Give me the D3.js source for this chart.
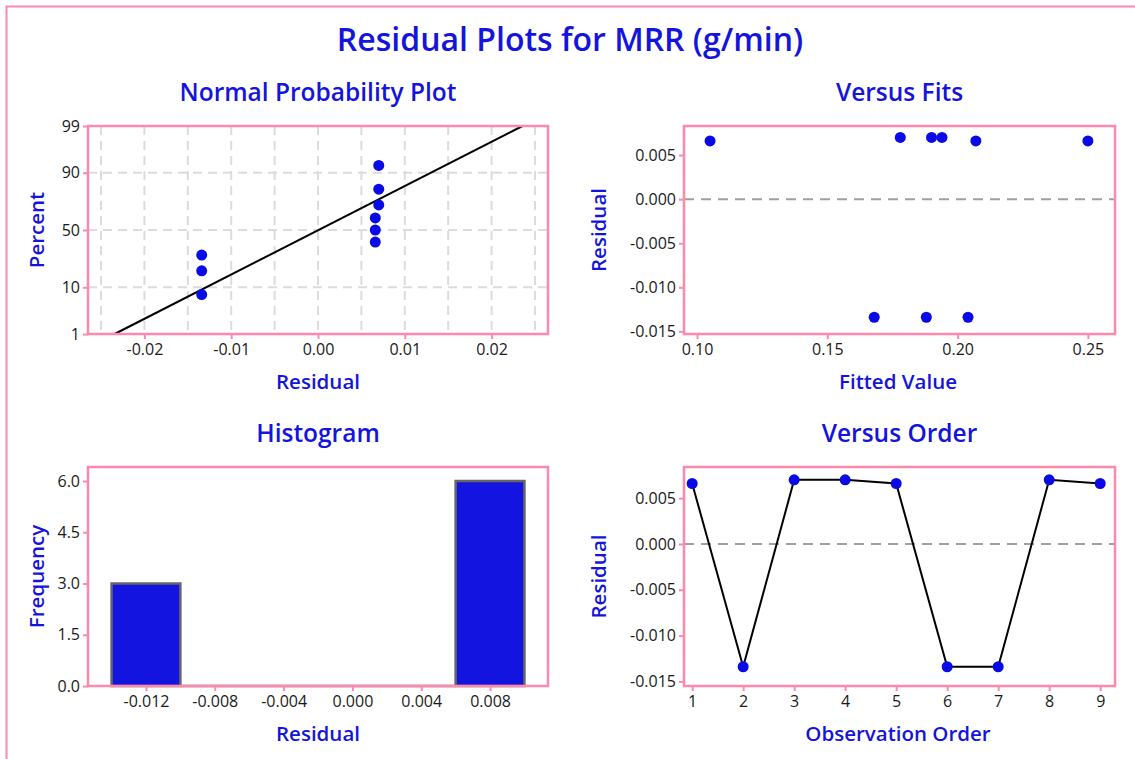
<!DOCTYPE html>
<html>
<head>
<meta charset="utf-8">
<script src="https://cdn.jsdelivr.net/npm/d3@7"></script>
<style>
  body { margin: 0; background: #fff; }
  text { font-family: "Open Sans", "Noto Sans", sans-serif; }
</style>
</head>
<body>
<svg width="1135" height="759"></svg>
<script>
// residuals in observation order, and the fitted value of each observation
var observation = [1, 2, 3, 4, 5, 6, 7, 8, 9];
var residuals = [0.0066, -0.0134, 0.0070, 0.0070, 0.0066, -0.0134, -0.0134, 0.0070, 0.0066];
var fitted = [0.105, 0.168, 0.178, 0.190, 0.207, 0.188, 0.204, 0.194, 0.250];

// tick labels
var pctTicks = [1, 10, 50, 90, 99];
var nppXTicks = [-0.02, -0.01, 0.00, 0.01, 0.02];
var fitsXTicks = [0.10, 0.15, 0.20, 0.25];
var residTicks = [0.005, 0.000, -0.005, -0.010, -0.015];
var histXTicks = [-0.012, -0.008, -0.004, 0.000, 0.004, 0.008];
var histYTicks = [0.0, 1.5, 3.0, 4.5, 6.0];
var binEdges = [-0.014, -0.010, -0.006, -0.002, 0.002, 0.006, 0.010];

var pink = "#ff88ad",
  blue = "#1414dc",
  dot = "#0a0ae6";

// plain hyphen for negatives, like the original
var fmt = d3.formatLocale({decimal: ".", thousands: ",", grouping: [3], currency: ["", ""], minus: "-"}).format;

var svg = d3.select("svg");

// outer frame, runs off the page on the right and bottom
svg.append("rect")
  .attr("x", 6.5).attr("y", 6.5)
  .attr("width", 1300).attr("height", 900)
  .attr("fill", "none").attr("stroke", pink).attr("stroke-width", 2);

svg.append("text")
  .attr("x", 570).attr("y", 51)
  .attr("text-anchor", "middle")
  .attr("fill", blue)
  .style("font-size", "32px").style("font-weight", 600)
  .text("Residual Plots for MRR (g/min)");

// inverse normal cdf (Acklam)
function qnorm(p) {
  var a = [-3.969683028665376e+01, 2.209460984245205e+02, -2.759285104469687e+02, 1.383577518672690e+02, -3.066479806614716e+01, 2.506628277459239e+00];
  var b = [-5.447609879822406e+01, 1.615858368580409e+02, -1.556989798598866e+02, 6.680131188771972e+01, -1.328068155288572e+01];
  var c = [-7.784894002430293e-03, -3.223964580411365e-01, -2.400758277161838e+00, -2.549732539343734e+00, 4.374664141464968e+00, 2.938163982698783e+00];
  var d = [7.784695709041462e-03, 3.224671290700398e-01, 2.445134137142996e+00, 3.754408661907416e+00];
  var q, r;
  if (p < 0.02425) {
    q = Math.sqrt(-2 * Math.log(p));
    return (((((c[0]*q+c[1])*q+c[2])*q+c[3])*q+c[4])*q+c[5]) / ((((d[0]*q+d[1])*q+d[2])*q+d[3])*q+1);
  } else if (p > 1 - 0.02425) {
    q = Math.sqrt(-2 * Math.log(1 - p));
    return -(((((c[0]*q+c[1])*q+c[2])*q+c[3])*q+c[4])*q+c[5]) / ((((d[0]*q+d[1])*q+d[2])*q+d[3])*q+1);
  }
  q = p - 0.5; r = q * q;
  return (((((a[0]*r+a[1])*r+a[2])*r+a[3])*r+a[4])*r+a[5])*q / (((((b[0]*r+b[1])*r+b[2])*r+b[3])*r+b[4])*r+1);
}

// panel frame + titles
function panel(box, title, xlab, ylab) {
  var g = svg.append("g");
  svg.append("text")
    .attr("x", (box.x0 + box.x1) / 2).attr("y", box.y0 - 25)
    .attr("text-anchor", "middle").attr("fill", blue)
    .style("font-size", "24.5px").style("font-weight", 600)
    .text(title);
  svg.append("text")
    .attr("x", box.xlabX).attr("y", box.y1 + 55)
    .attr("text-anchor", "middle").attr("fill", blue)
    .style("font-size", "20.5px").style("font-weight", 600)
    .text(xlab);
  svg.append("text")
    .attr("transform", "translate(" + box.ylabX + "," + (box.y0 + box.y1) / 2 + ") rotate(-90)")
    .attr("text-anchor", "middle").attr("fill", blue)
    .style("font-size", "20.5px").style("font-weight", 600)
    .text(ylab);
  return g;
}

function styleAxis(sel) {
  sel.select(".domain").remove();
  sel.selectAll(".tick line").attr("stroke", pink).attr("stroke-width", 2);
  sel.selectAll(".tick text")
    .attr("fill", "#1a1a1a")
    .style("font-size", "16px");
}

function frame(g, box) {
  g.append("rect")
    .attr("x", box.x0).attr("y", box.y0)
    .attr("width", box.x1 - box.x0).attr("height", box.y1 - box.y0)
    .attr("fill", "none").attr("stroke", pink).attr("stroke-width", 2.5);
}

// ---- Normal probability plot
var b1 = {x0: 88, x1: 548, y0: 126, y1: 334, xlabX: 318, ylabX: 44};
var g1 = panel(b1, "Normal Probability Plot", "Residual", "Percent");
var x1 = d3.scaleLinear().domain([-0.0265, 0.0265]).range([b1.x0, b1.x1]);
var y1 = d3.scaleLinear().domain([qnorm(0.01), qnorm(0.99)]).range([b1.y1, b1.y0]);

var n = residuals.length;
var sorted = residuals.slice().sort(d3.ascending);
var npp = sorted.map(function(r, i) { return {r: r, p: (i + 1 - 0.3) / (n + 0.4)}; });
var mu = d3.mean(residuals), sd = d3.deviation(residuals);

g1.append("g").selectAll("line")
  .data(d3.range(-0.025, 0.02501, 0.005))
  .enter().append("line")
  .attr("x1", function(d) { return x1(d); }).attr("x2", function(d) { return x1(d); })
  .attr("y1", b1.y0).attr("y2", b1.y1)
  .attr("stroke", "#dcdcdc").attr("stroke-width", 2).attr("stroke-dasharray", "9,6");
g1.append("g").selectAll("line")
  .data([10, 50, 90])
  .enter().append("line")
  .attr("x1", b1.x0).attr("x2", b1.x1)
  .attr("y1", function(d) { return y1(qnorm(d / 100)); })
  .attr("y2", function(d) { return y1(qnorm(d / 100)); })
  .attr("stroke", "#dcdcdc").attr("stroke-width", 2).attr("stroke-dasharray", "9,6");

g1.append("line")
  .attr("x1", x1(mu + sd * qnorm(0.01))).attr("y1", y1(qnorm(0.01)))
  .attr("x2", x1(mu + sd * qnorm(0.99))).attr("y2", y1(qnorm(0.99)))
  .attr("stroke", "#000").attr("stroke-width", 2);

g1.selectAll("circle")
  .data(npp).enter().append("circle")
  .attr("cx", function(d) { return x1(d.r); })
  .attr("cy", function(d) { return y1(qnorm(d.p)); })
  .attr("r", 5.5).attr("fill", dot);

frame(g1, b1);
g1.append("g").attr("transform", "translate(0," + b1.y1 + ")")
  .call(d3.axisBottom(x1).tickValues(nppXTicks).tickSize(5).tickPadding(5).tickFormat(fmt(".2f")))
  .call(styleAxis);
g1.append("g").attr("transform", "translate(" + b1.x0 + ",0)")
  .call(d3.axisLeft(y1).tickValues(pctTicks.map(function(p) { return qnorm(p / 100); }))
    .tickSize(5).tickPadding(3).tickFormat(function(d, i) { return pctTicks[i]; }))
  .call(styleAxis);

// ---- Versus fits
var b2 = {x0: 684, x1: 1115, y0: 126, y1: 334, xlabX: 898, ylabX: 606};
var g2 = panel(b2, "Versus Fits", "Fitted Value", "Residual");
var x2 = d3.scaleLinear().domain([0.095, 0.2604]).range([b2.x0, b2.x1]);
var y2 = d3.scaleLinear().domain([-0.0153, 0.0083]).range([b2.y1, b2.y0]);

g2.append("line")
  .attr("x1", b2.x0).attr("x2", b2.x1).attr("y1", y2(0)).attr("y2", y2(0))
  .attr("stroke", "#a0a0a0").attr("stroke-width", 2).attr("stroke-dasharray", "10,7");
g2.selectAll("circle")
  .data(fitted).enter().append("circle")
  .attr("cx", function(d) { return x2(d); })
  .attr("cy", function(d, i) { return y2(residuals[i]); })
  .attr("r", 5.5).attr("fill", dot);
frame(g2, b2);
g2.append("g").attr("transform", "translate(0," + b2.y1 + ")")
  .call(d3.axisBottom(x2).tickValues(fitsXTicks).tickSize(5).tickPadding(5).tickFormat(fmt(".2f")))
  .call(styleAxis);
g2.append("g").attr("transform", "translate(" + b2.x0 + ",0)")
  .call(d3.axisLeft(y2).tickValues(residTicks).tickSize(5).tickPadding(3).tickFormat(fmt(".3f")))
  .call(styleAxis);

// ---- Histogram
var b3 = {x0: 88, x1: 548, y0: 467, y1: 686, xlabX: 318, ylabX: 44};
var g3 = panel(b3, "Histogram", "Residual", "Frequency");
var x3 = d3.scaleLinear().domain([-0.01537, 0.01137]).range([b3.x0, b3.x1]);
var y3 = d3.scaleLinear().domain([0, 6.41]).range([b3.y1, b3.y0]);
var bins = d3.bin().domain([binEdges[0], binEdges[binEdges.length - 1]])
  .thresholds(binEdges.slice(1, -1))(residuals);

g3.selectAll("path.bar")
  .data(bins).enter().append("path")
  .attr("class", "bar")
  .attr("d", function(d) {
    var xa = x3(d.x0), xb = x3(d.x1), y0 = y3(0), yt = y3(d.length);
    return "M" + xa + "," + y0 + "V" + yt + "H" + xb + "V" + y0 + "Z";
  })
  .attr("fill", "#1414e0").attr("stroke", "#666").attr("stroke-width", 2.5);
frame(g3, b3);
g3.append("g").attr("transform", "translate(0," + b3.y1 + ")")
  .call(d3.axisBottom(x3).tickValues(histXTicks).tickSize(5).tickPadding(5).tickFormat(fmt(".3f")))
  .call(styleAxis);
g3.append("g").attr("transform", "translate(" + b3.x0 + ",0)")
  .call(d3.axisLeft(y3).tickValues(histYTicks).tickSize(5).tickPadding(3).tickFormat(fmt(".1f")))
  .call(styleAxis);

// ---- Versus order
var b4 = {x0: 684, x1: 1115, y0: 467, y1: 686, xlabX: 898, ylabX: 606};
var g4 = panel(b4, "Versus Order", "Observation Order", "Residual");
var x4 = d3.scaleLinear().domain([0.84, 9.29]).range([b4.x0, b4.x1]);
var y4 = d3.scaleLinear().domain([-0.0155, 0.0084]).range([b4.y1, b4.y0]);

g4.append("line")
  .attr("x1", b4.x0).attr("x2", b4.x1).attr("y1", y4(0)).attr("y2", y4(0))
  .attr("stroke", "#a0a0a0").attr("stroke-width", 2).attr("stroke-dasharray", "10,7");
g4.append("path")
  .datum(observation)
  .attr("d", d3.line()
    .x(function(d) { return x4(d); })
    .y(function(d, i) { return y4(residuals[i]); }))
  .attr("fill", "none").attr("stroke", "#000").attr("stroke-width", 2);
g4.selectAll("circle")
  .data(observation).enter().append("circle")
  .attr("cx", function(d) { return x4(d); })
  .attr("cy", function(d, i) { return y4(residuals[i]); })
  .attr("r", 5.5).attr("fill", dot);
frame(g4, b4);
g4.append("g").attr("transform", "translate(0," + b4.y1 + ")")
  .call(d3.axisBottom(x4).tickValues(observation).tickSize(5).tickPadding(5).tickFormat(fmt("d")))
  .call(styleAxis);
g4.append("g").attr("transform", "translate(" + b4.x0 + ",0)")
  .call(d3.axisLeft(y4).tickValues(residTicks).tickSize(5).tickPadding(3).tickFormat(fmt(".3f")))
  .call(styleAxis);
</script>
</body>
</html>
